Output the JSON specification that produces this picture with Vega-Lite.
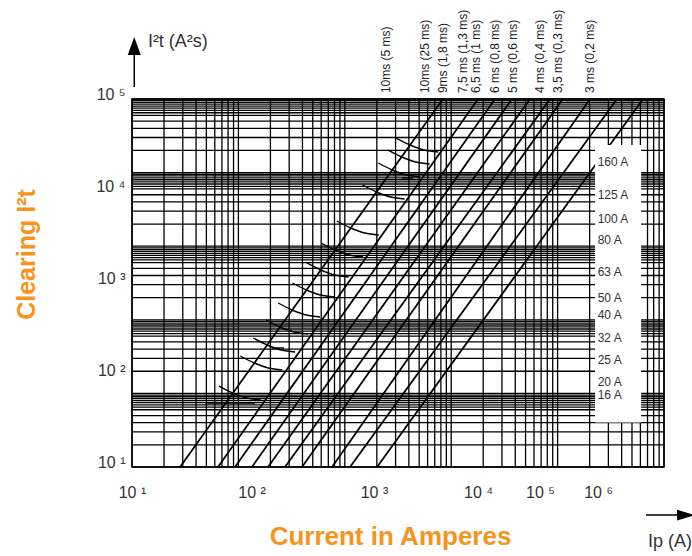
{
"$schema":"https://vega.github.io/schema/vega-lite/v6.json",
"width":532,"height":368,
"autosize":"none",
"padding":{"left":132,"top":99,"right":28,"bottom":89},
"background":"white",
"config":{"view":{"stroke":"black","strokeWidth":1.5},"font":"Liberation Sans"},
"datasets":{
"hgrid":[{"g":1},{"g":2},{"g":3},{"g":4},{"g":5},{"g":6},{"g":6.5},{"g":7},{"g":7.5},{"g":8},{"g":8.5},{"g":9},{"g":9.5},
{"g":10},{"g":20},{"g":30},{"g":40},{"g":50},{"g":60},{"g":65},{"g":70},{"g":75},{"g":80},{"g":85},{"g":90},{"g":95},
{"g":100},{"g":200},{"g":300},{"g":400},{"g":500},{"g":600},{"g":650},{"g":700},{"g":750},{"g":800},{"g":850},{"g":900},{"g":950},
{"g":1000},{"g":2000},{"g":3000},{"g":4000},{"g":5000},{"g":6000},{"g":6500},{"g":7000},{"g":7500},{"g":8000},{"g":8500},{"g":9000},{"g":9500},
{"g":10000},{"g":20000},{"g":30000},{"g":40000},{"g":50000},{"g":60000},{"g":65000},{"g":70000},{"g":75000},{"g":80000},{"g":85000},{"g":90000},{"g":95000},
{"g":100000}],
"vgrid":[{"g":10},{"g":20},{"g":30},{"g":40},{"g":50},{"g":60},{"g":70},{"g":80},{"g":90},
{"g":100},{"g":200},{"g":300},{"g":400},{"g":500},{"g":600},{"g":700},{"g":800},{"g":900},
{"g":1000},{"g":2000},{"g":3000},{"g":4000},{"g":5000},{"g":6000},{"g":7000},{"g":8000},{"g":9000},
{"g":10000},{"g":20000},{"g":30000},{"g":40000},{"g":50000},{"g":60000},{"g":70000},{"g":80000},{"g":90000},
{"g":100000},{"g":200000},{"g":300000},{"g":400000},{"g":500000},{"g":600000},{"g":700000},{"g":800000},{"g":900000},
{"g":1000000}],
"curves":[
{"id":1,"x":28.3,"y":10},{"id":1,"x":8370,"y":100000},
{"id":2,"x":64.3,"y":10},{"id":2,"x":17900,"y":100000},
{"id":3,"x":92.9,"y":10},{"id":3,"x":25800,"y":100000},
{"id":4,"x":134,"y":10},{"id":4,"x":37300,"y":100000},
{"id":5,"x":190,"y":10},{"id":5,"x":55000,"y":100000},
{"id":6,"x":274,"y":10},{"id":6,"x":84900,"y":100000},
{"id":7,"x":396,"y":10},{"id":7,"x":112000,"y":100000},
{"id":8,"x":759,"y":10},{"id":8,"x":202000,"y":100000},
{"id":9,"x":1120,"y":10},{"id":9,"x":362000,"y":100000},
{"id":10,"x":2010,"y":10},{"id":10,"x":636000,"y":100000}],
"arcs":[
{"id":"A","x":3041,"y":37660},{"id":"A","x":4119,"y":31623},{"id":"A","x":5573,"y":27910},{"id":"A","x":7547,"y":26540},
{"id":"B","x":2526,"y":27910},{"id":"B","x":3418,"y":23420},{"id":"B","x":4628,"y":20670},{"id":"B","x":6266,"y":19660},
{"id":"C","x":2065,"y":20150},{"id":"C","x":2795,"y":16920},{"id":"C","x":3784,"y":14930},{"id":"C","x":5124,"y":14200},
{"id":"D","x":1470,"y":11620},{"id":"D","x":1990,"y":9752},{"id":"D","x":2695,"y":8606},{"id":"D","x":3648,"y":8185},
{"id":"E","x":841,"y":4720},{"id":"E","x":1139,"y":3961},{"id":"E","x":1542,"y":3495},{"id":"E","x":2087,"y":3324},
{"id":"F","x":599,"y":2721},{"id":"F","x":811,"y":2284},{"id":"F","x":1098,"y":2015},{"id":"F","x":1486,"y":1917},
{"id":"G","x":439.5,"y":1650},{"id":"G","x":594.9,"y":1385},{"id":"G","x":805.4,"y":1222},{"id":"G","x":1090,"y":1162},
{"id":"H","x":322.4,"y":1000},{"id":"H","x":436.5,"y":839.3},{"id":"H","x":591,"y":740.6},{"id":"H","x":800.2,"y":704.4},
{"id":"I","x":236.7,"y":606.3},{"id":"I","x":320.3,"y":508.8},{"id":"I","x":433.7,"y":449},{"id":"I","x":587.2,"y":427},
{"id":"J","x":182.1,"y":396.1},{"id":"J","x":246.6,"y":332.4},{"id":"J","x":333.8,"y":293.4},{"id":"J","x":451.9,"y":279.1},
{"id":"K","x":137.8,"y":252.5},{"id":"K","x":186.5,"y":211.9},{"id":"K","x":252.5,"y":187},{"id":"K","x":341.8,"y":177.8},
{"id":"L","x":104.2,"y":160.9},{"id":"L","x":141.1,"y":135},{"id":"L","x":191,"y":119.2},{"id":"L","x":258.6,"y":113.3},
{"id":"M","x":65.6,"y":75.9},{"id":"M","x":88.8,"y":63.7},{"id":"M","x":120.2,"y":56.2},{"id":"M","x":162.7,"y":53.5},
{"id":"d1","x":3448,"y":13850},{"id":"d1","x":4375,"y":13850},
{"id":"d2","x":206.9,"y":196.6},{"id":"d2","x":268.3,"y":196.6},
{"id":"d3","x":48.5,"y":49.6},{"id":"d3","x":143.2,"y":49.6}],
"ratings":[
{"label":"160 A","y":20800},{"label":"125 A","y":9020},{"label":"100 A","y":4910},{"label":"80 A","y":2920},
{"label":"63 A","y":1321},{"label":"50 A","y":695},{"label":"40 A","y":446},{"label":"32 A","y":255},
{"label":"25 A","y":144.5},{"label":"20 A","y":83.9},{"label":"16 A","y":61.2}],
"times":[
{"label":"10ms (5 ms)","x":2440},{"label":"10ms (25 ms)","x":5670},{"label":"9ms (1,8 ms)","x":8380},
{"label":"7,5 ms (1,3 ms)","x":12900},{"label":"6,5 ms (1 ms)","x":17100},{"label":"6 ms (0,8 ms)","x":25800},
{"label":"5 ms (0,6 ms)","x":38100},{"label":"4 ms (0,4 ms)","x":68400},{"label":"3,5 ms (0,3 ms)","x":101000},
{"label":"3 ms (0,2 ms)","x":202000}]
},
"resolve":{"scale":{"y":"independent"}},
"layer":[
{"data":{"name":"hgrid"},"mark":{"type":"rule","color":"black","strokeWidth":1.3},
 "encoding":{"y":{"field":"g","type":"quantitative","scale":{"type":"log","domain":[1,100000]},"axis":null}}},
{"layer":[
 {"data":{"name":"vgrid"},"mark":{"type":"rule","color":"black","strokeWidth":1.3},
  "encoding":{"x":{"field":"g","type":"quantitative","scale":{"type":"log","domain":[10,1000000]},
     "axis":{"values":[10,133,1880,17900,68400,240000],
       "labelExpr":"['10 ¹','10 ²','10 ³','10 ⁴','10 ⁵','10 ⁶'][indexof([10,133,1880,17900,68400,240000],datum.value)]",
       "ticks":false,"domain":false,"grid":false,"labelFontSize":16,"labelColor":"#333","labelPadding":17,
       "labelFlush":false,"labelOverlap":false,
       "title":"Current in Amperes","titleColor":"#f7941d","titleFontSize":26,"titleFontWeight":"bold",
       "titleX":258,"titleY":69,"titleAlign":"center","titleBaseline":"middle"}}}},
 {"data":{"name":"curves"},"mark":{"type":"line","color":"black","strokeWidth":1.8},
  "encoding":{
   "x":{"field":"x","type":"quantitative","scale":{"type":"log","domain":[10,1000000]}},
   "y":{"field":"y","type":"quantitative","scale":{"type":"log","domain":[10,100000]},
     "axis":{"values":[10,100,1000,10000,100000],
       "labelExpr":"['10 ¹','10 ²','10 ³','10 ⁴','10 ⁵'][indexof([10,100,1000,10000,100000],datum.value)]",
       "ticks":false,"domain":false,"grid":false,"labelFontSize":16,"labelColor":"#333","labelPadding":7,"labelOffset":-5,
       "labelFlush":false,"labelOverlap":false,
       "title":"Clearing I²t","titleColor":"#f7941d","titleFontSize":25,"titleFontWeight":"bold",
       "titleX":-106,"titleY":155,"titleAngle":270,"titleAlign":"center","titleBaseline":"middle"}},
   "detail":{"field":"id","type":"nominal"}}},
 {"data":{"name":"arcs"},"mark":{"type":"line","color":"black","strokeWidth":1.4,"interpolate":"monotone"},
  "encoding":{
   "x":{"field":"x","type":"quantitative","scale":{"type":"log","domain":[10,1000000]}},
   "y":{"field":"y","type":"quantitative","scale":{"type":"log","domain":[10,100000]}},
   "detail":{"field":"id","type":"nominal"}}},
 {"data":{"values":[{"x1":225000,"x2":610000,"y1":30.5,"y2":31600}]},
  "mark":{"type":"rect","fill":"white","stroke":null},
  "encoding":{"x":{"field":"x1","type":"quantitative","scale":{"type":"log","domain":[10,1000000]}},
   "x2":{"field":"x2"},
   "y":{"field":"y1","type":"quantitative","scale":{"type":"log","domain":[10,100000]}},
   "y2":{"field":"y2"}}},
 {"data":{"name":"ratings"},"mark":{"type":"text","align":"left","baseline":"middle","fontSize":12,"color":"#333"},
  "encoding":{"x":{"datum":238000,"type":"quantitative","scale":{"type":"log","domain":[10,1000000]}},
   "y":{"field":"y","type":"quantitative","scale":{"type":"log","domain":[10,100000]}},
   "text":{"field":"label"}}},
 {"data":{"name":"times"},"mark":{"type":"text","align":"left","baseline":"middle","angle":270,"fontSize":12,"color":"#222"},
  "encoding":{"x":{"field":"x","type":"quantitative","scale":{"type":"log","domain":[10,1000000]}},
   "y":{"datum":116000,"type":"quantitative","scale":{"type":"log","domain":[10,100000]}},
   "text":{"field":"label"}}},
 {"data":{"values":[{"x":10.5,"y":135000,"y2":341000},{"x":678000,"y":3,"x2":2180000}]},
  "mark":{"type":"rule","color":"black","strokeWidth":1.5},
  "encoding":{"x":{"field":"x","type":"quantitative","scale":{"type":"log","domain":[10,1000000]}},
   "x2":{"field":"x2"},
   "y":{"field":"y","type":"quantitative","scale":{"type":"log","domain":[10,100000]}},
   "y2":{"field":"y2"}}},
 {"data":{"values":[{"x":10.5,"y":377000,"s":"M0,-1L0.72,1L-0.72,1Z"},{"x":1610000,"y":3,"s":"M1,0L-1,-0.6L-1,0.6Z"}]},
  "mark":{"type":"point","filled":true,"color":"black","opacity":1,"size":324},
  "encoding":{"x":{"field":"x","type":"quantitative","scale":{"type":"log","domain":[10,1000000]}},
   "y":{"field":"y","type":"quantitative","scale":{"type":"log","domain":[10,100000]}},
   "shape":{"field":"s","type":"nominal","scale":null}}},
 {"data":{"values":[{"t":"I²t (A²s)","x":14.1,"y":417000},{"t":"Ip (A)","x":708000,"y":1.53}]},
  "mark":{"type":"text","align":"left","baseline":"middle","fontSize":18,"color":"#333"},
  "encoding":{"x":{"field":"x","type":"quantitative","scale":{"type":"log","domain":[10,1000000]}},
   "y":{"field":"y","type":"quantitative","scale":{"type":"log","domain":[10,100000]}},
   "text":{"field":"t"}}}
 ]}
]
}
